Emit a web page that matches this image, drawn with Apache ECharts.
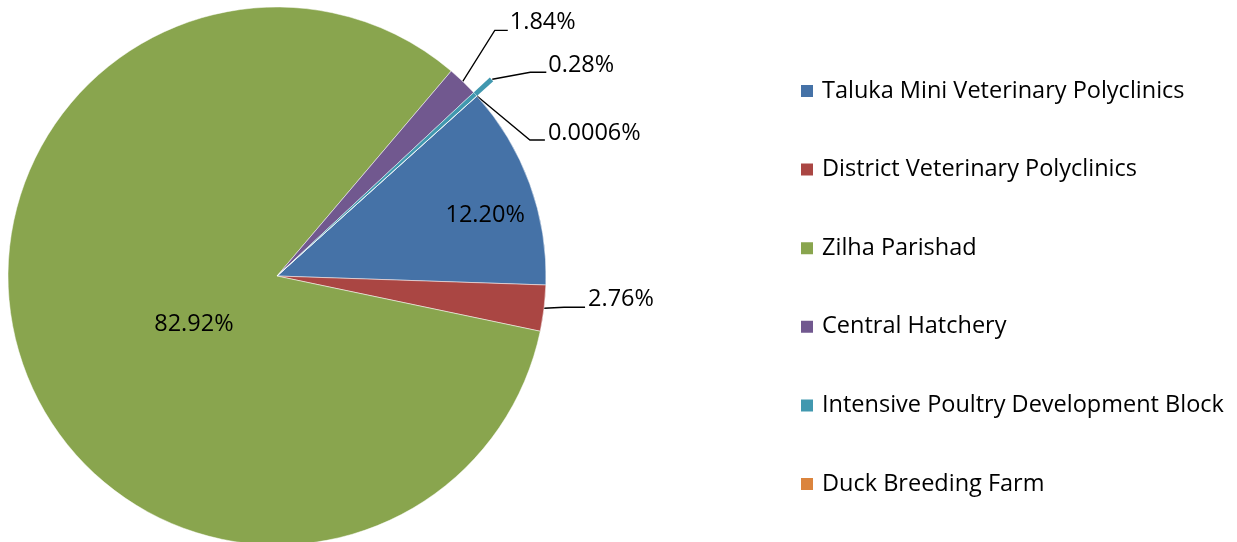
<!DOCTYPE html>
<html>
<head>
<meta charset="utf-8">
<script src="https://cdn.jsdelivr.net/npm/echarts@6/dist/echarts.min.js"></script>
<style>
html,body{margin:0;padding:0;background:#fff;}
#c{width:1237px;height:542px;}
</style>
</head>
<body>
<div id="c"></div>
<script>
const categories = [
  'Taluka Mini Veterinary Polyclinics',
  'District Veterinary Polyclinics',
  'Zilha Parishad',
  'Central Hatchery',
  'Intensive Poultry Development Block',
  'Duck Breeding Farm'
];
const shares = [12.20, 2.76, 82.92, 1.84, 0.28, 0.0006];
const colors = ['#4572A7', '#AA4643', '#89A54E', '#71588F', '#4198AF', '#DB843D'];

const FONT = '"Open Sans"';
const FSIZE = 23.5;
const CENTER = [277, 276];
const RADIUS = 269;
const START = 42;

function fmt(v) {
  return (v < 0.01 ? String(v) : v.toFixed(2)) + '%';
}

// label placement relative to the slice edge point (leader line styles)
const outsideRel = {
  1: {pts: [[0, 0], [20, -1], [41, -1]], lab: [44, -9]},
  3: {pts: [[0, 0], [32, -51], [45, -51]], lab: [47, -59]},
  4: {pts: [[17, -15], [55, -22], [71, -22]], lab: [73, -29]},
  5: {pts: [[0, 0], [53, 44], [68, 44]], lab: [71, 37]}
};
const insideShift = {0: [79, -14], 2: [47, 4]};

const mainData = categories.map((n, i) => ({
  name: n,
  value: shares[i],
  itemStyle: {color: colors[i]},
  label: {position: (i === 0 || i === 2) ? 'inside' : 'outside'}
}));

const extData = categories.map((n, i) => ({
  name: n,
  value: shares[i],
  itemStyle: {color: i === 4 ? colors[4] : 'rgba(0,0,0,0)'}
}));

const chart = echarts.init(document.getElementById('c'), null, {renderer: 'canvas'});
chart.setOption({
  animation: false,
  color: colors,
  legend: {
    orient: 'vertical',
    left: 799,
    top: 79,
    padding: 0,
    itemWidth: 14,
    itemHeight: 14,
    itemGap: 54.6,
    icon: 'rect',
    data: categories,
    selectedMode: false,
    textStyle: {fontFamily: FONT, fontSize: FSIZE, color: '#000', lineHeight: 22, padding: [0, 0, 0, 3]}
  },
  series: [
    {
      type: 'pie',
      z: 3,
      center: CENTER,
      radius: RADIUS,
      startAngle: START,
      clockwise: true,
      avoidLabelOverlap: false,
      minAngle: 0,
      itemStyle: {borderColor: '#fff', borderWidth: 0.5},
      label: {
        show: true,
        fontFamily: FONT,
        fontSize: FSIZE,
        color: '#000',
        formatter: p => fmt(p.value)
      },
      labelLine: {show: true, lineStyle: {color: '#000', width: 1.3}, length: 20, length2: 10},
      emphasis: {disabled: true},
      labelLayout: function (params) {
        const i = params.dataIndex;
        if (insideShift[i]) {
          return {dx: insideShift[i][0], dy: insideShift[i][1]};
        }
        const rel = outsideRel[i];
        if (!rel || !params.labelLinePoints) return {};
        const e = params.labelLinePoints[0];
        return {
          x: e[0] + rel.lab[0],
          y: e[1] + rel.lab[1],
          align: 'left',
          verticalAlign: 'middle',
          labelLinePoints: rel.pts.map(p => [e[0] + p[0], e[1] + p[1]])
        };
      },
      data: mainData
    },
    {
      type: 'pie',
      z: 1,
      silent: true,
      center: CENTER,
      radius: RADIUS + 22,
      startAngle: START,
      clockwise: true,
      label: {show: false},
      labelLine: {show: false},
      emphasis: {disabled: true},
      data: extData
    }
  ]
});
</script>
</body>
</html>
